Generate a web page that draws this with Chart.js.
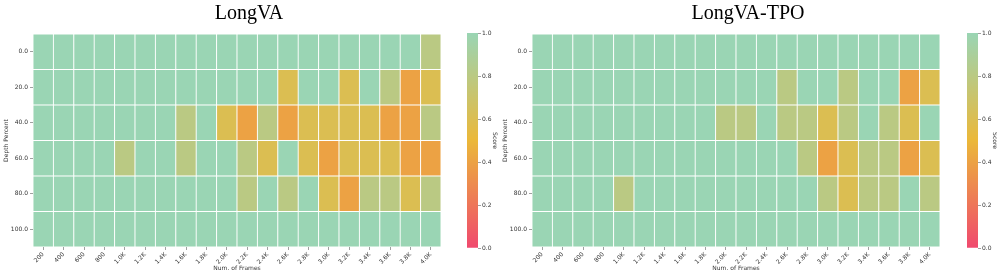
<!DOCTYPE html>
<html>
<head>
<meta charset="utf-8">
<script src="https://cdn.jsdelivr.net/npm/chart.js@4.4.1/dist/chart.umd.min.js"></script>
<style>
  html, body { margin: 0; padding: 0; background: #fff; }
  #wrap { position: relative; width: 997px; height: 272px; overflow: hidden; }
  canvas { position: absolute; top: 0; }
</style>
</head>
<body>
<div id="wrap">
  <canvas id="h1" width="498" height="272" style="left:0px"></canvas>
  <canvas id="c1" width="57" height="272" style="left:441px"></canvas>
  <canvas id="h2" width="498" height="272" style="left:499px"></canvas>
  <canvas id="c2" width="57" height="272" style="left:941px"></canvas>
</div>
<script>
// ---- data ----
const frameLabels = ['200','400','600','800','1.0K','1.2K','1.4K','1.6K','1.8K','2.0K','2.2K','2.4K','2.6K','2.8K','3.0K','3.2K','3.4K','3.6K','3.8K','4.0K'];
const depthLabels = ['0.0','20.0','40.0','60.0','80.0','100.0'];
const scoreTicks = [0, 0.2, 0.4, 0.6, 0.8, 1.0];

// rows = depth percent (top to bottom), columns = frames
const longvaScores = [
  [1,1,1,1,1,1,1,1,1,1,1,1,1,1,1,1,1,1,1,0.8],
  [1,1,1,1,1,1,1,1,1,1,1,1,0.6,1,1,0.6,1,0.8,0.4,0.6],
  [1,1,1,1,1,1,1,0.8,1,0.6,0.4,0.8,0.4,0.6,0.6,0.6,0.6,0.4,0.4,0.8],
  [1,1,1,1,0.8,1,1,0.8,1,1,0.8,0.6,1,0.6,0.4,0.6,0.6,0.6,0.4,0.4],
  [1,1,1,1,1,1,1,1,1,1,0.8,1,0.8,1,0.6,0.4,0.8,0.8,0.6,0.8],
  [1,1,1,1,1,1,1,1,1,1,1,1,1,1,1,1,1,1,1,1]
];
const longvaTpoScores = [
  [1,1,1,1,1,1,1,1,1,1,1,1,1,1,1,1,1,1,1,1],
  [1,1,1,1,1,1,1,1,1,1,1,1,0.8,1,1,0.8,1,1,0.4,0.6],
  [1,1,1,1,1,1,1,1,1,0.8,0.8,1,0.8,0.8,0.6,0.8,1,0.8,0.6,1],
  [1,1,1,1,1,1,1,1,1,1,1,1,1,0.8,0.4,0.6,0.8,0.8,0.4,0.6],
  [1,1,1,1,0.8,1,1,1,1,1,1,1,1,1,0.8,0.6,0.8,0.8,1,0.8],
  [1,1,1,1,1,1,1,1,1,1,1,1,1,1,1,1,1,1,1,1]
];

// ---- colormap ----
const cmapStops = ['#F0496E', '#EBB839', '#9AD5B4'];
function hexToRgb(h) { return [parseInt(h.slice(1,3),16), parseInt(h.slice(3,5),16), parseInt(h.slice(5,7),16)]; }
function scoreColor(v) {
  const n = cmapStops.length - 1;
  const p = Math.max(0, Math.min(1, v)) * n;
  const i = Math.min(n - 1, Math.floor(p));
  const t = p - i;
  const a = hexToRgb(cmapStops[i]), b = hexToRgb(cmapStops[i+1]);
  const c = a.map((x, k) => Math.round(x + (b[k] - x) * t));
  return 'rgb(' + c.join(',') + ')';
}

const tickFont = { family: 'DejaVu Sans', size: 6 };
const textColor = '#333';
const tickGrid = { display: true, drawOnChartArea: false, offset: false, tickLength: 3, tickWidth: 0.8, color: '#888' };

function heatmap(id, title, scores) {
  // stacked from bottom: last depth row first
  const datasets = depthLabels.map((d, r) => ({
    label: d,
    data: frameLabels.map(() => 1),
    backgroundColor: scores[r].map(scoreColor),
    borderColor: '#ffffff',
    borderWidth: 0.8,
    borderSkipped: false,
    barPercentage: 1,
    categoryPercentage: 1
  })).reverse();
  new Chart(document.getElementById(id), {
    type: 'bar',
    data: { labels: frameLabels, datasets },
    options: {
      responsive: false,
      animation: false,
      devicePixelRatio: 1,
      layout: { padding: 0 },
      plugins: {
        legend: { display: false },
        tooltip: { enabled: false },
        title: {
          display: true, text: title, color: '#000',
          font: { family: 'Liberation Serif', size: 20, weight: 'normal' },
          padding: { top: 2, bottom: 8 }
        }
      },
      scales: {
        x: {
          type: 'category', stacked: true, position: 'bottom',
          grid: tickGrid, border: { display: false },
          ticks: { font: tickFont, color: textColor, minRotation: 45, maxRotation: 45, autoSkip: false, padding: 1 },
          title: { display: true, text: 'Num. of Frames', font: tickFont, color: textColor, padding: 0 },
          afterFit: s => { s.height = 25; }
        },
        y: { type: 'linear', stacked: true, min: 0, max: depthLabels.length, display: false },
        yCat: {
          type: 'category', labels: depthLabels, offset: true, position: 'left',
          grid: tickGrid, border: { display: false },
          ticks: { font: tickFont, color: textColor, padding: 2, autoSkip: false },
          title: { display: true, text: 'Depth Percent', font: tickFont, color: textColor, padding: { top: 3, bottom: 3 } },
          afterFit: s => { s.width = 33; }
        },
        yR: {
          type: 'linear', position: 'right', display: true,
          grid: { display: false }, border: { display: false },
          ticks: { display: false },
          afterFit: s => { s.width = 57; }
        }
      }
    }
  });
}

function colorbar(id) {
  new Chart(document.getElementById(id), {
    type: 'bar',
    data: {
      labels: [''],
      datasets: [{
        data: [1],
        borderWidth: 0,
        barPercentage: 1,
        categoryPercentage: 1,
        backgroundColor: (ctx) => {
          const a = ctx.chart.chartArea;
          if (!a) return cmapStops[2];
          const g = ctx.chart.ctx.createLinearGradient(0, a.bottom, 0, a.top);
          cmapStops.forEach((c, i) => g.addColorStop(i / (cmapStops.length - 1), c));
          return g;
        }
      }]
    },
    options: {
      responsive: false,
      animation: false,
      devicePixelRatio: 1,
      layout: { padding: { left: 26, top: 33, bottom: 24, right: 0 } },
      plugins: { legend: { display: false }, tooltip: { enabled: false }, title: { display: false } },
      scales: {
        x: { display: false },
        y: {
          type: 'linear', position: 'right', min: 0, max: 1,
          afterBuildTicks: s => { s.ticks = scoreTicks.map(v => ({ value: v })); },
          grid: tickGrid, border: { display: false },
          ticks: { font: tickFont, color: textColor, padding: 1, callback: v => Number(v).toFixed(1) },
          title: { display: true, text: 'Score', font: tickFont, color: textColor, padding: 0 },
          afterFit: s => { s.width = 20; }
        }
      }
    }
  });
}

heatmap('h1', 'LongVA', longvaScores);
colorbar('c1');
heatmap('h2', 'LongVA-TPO', longvaTpoScores);
colorbar('c2');
</script>
</body>
</html>
